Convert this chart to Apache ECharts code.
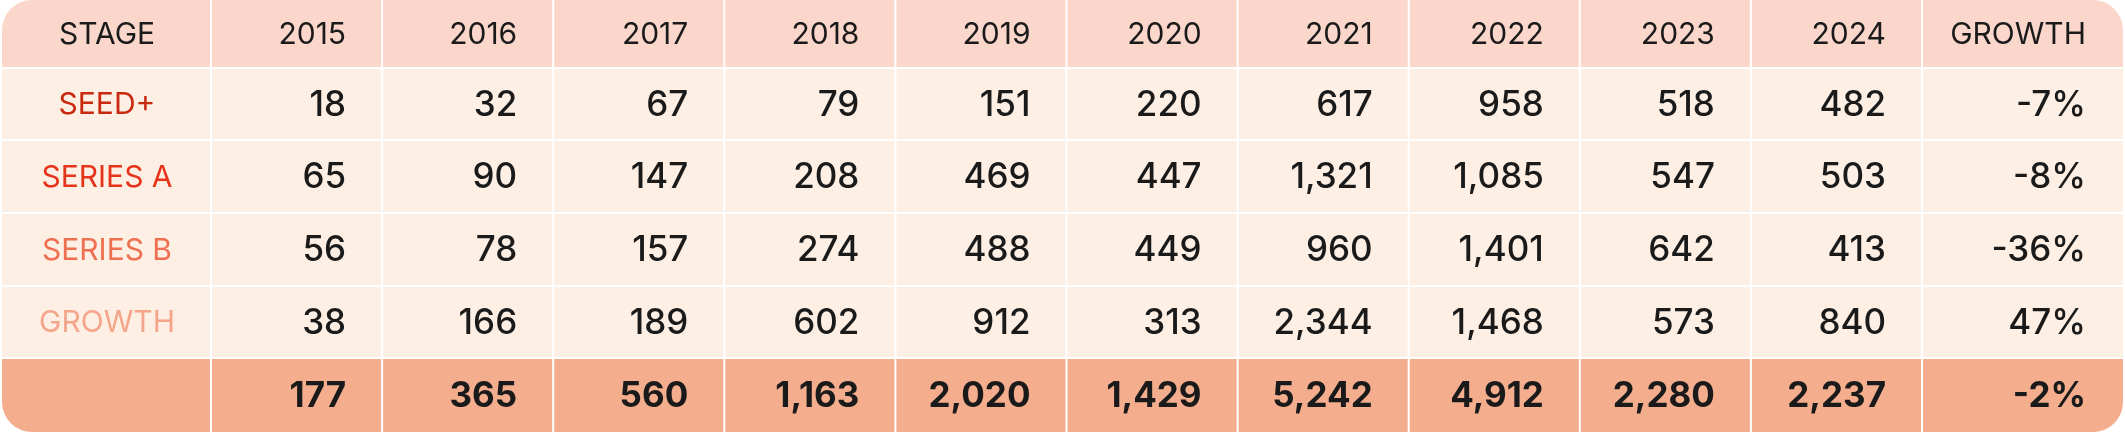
<!DOCTYPE html>
<html><head><meta charset="utf-8">
<script src="https://cdn.jsdelivr.net/npm/echarts@6/dist/echarts.min.js"></script>
<style>html,body{margin:0;padding:0;background:#fff}#c{width:2125px;height:432px}</style>
</head><body><div id="c"></div>
<script>
const headers = ['STAGE','2015','2016','2017','2018','2019','2020','2021','2022','2023','2024','GROWTH'];
const stages = ['SEED+','SERIES A','SERIES B','GROWTH'];
const stageColors = ['#C8290F','#E5341A','#EE7050','#F5A58A'];
const seedPlus = [18,32,67,79,151,220,617,958,518,482];
const seriesA = [65,90,147,208,469,447,1321,1085,547,503];
const seriesB = [56,78,157,274,488,449,960,1401,642,413];
const growthStage = [38,166,189,602,912,313,2344,1468,573,840];
const totals = [177,365,560,1163,2020,1429,5242,4912,2280,2237];
const growthPct = ['-7%','-8%','-36%','47%'];
const totalGrowth = '-2%';

const rows = [seedPlus, seriesA, seriesB, growthStage];
const fmt = v => v.toLocaleString('en-US');
const colW = [210].concat(Array(10).fill(171.1)).concat([200]);
const colX = [0]; colW.forEach(w => colX.push(colX[colX.length-1] + w));
const rowY = [0,69,141,214,287,359,432];
const cells = [];
headers.forEach((h,c) => cells.push([c,0,h,'head']));
rows.forEach((r,i) => {
  cells.push([0,i+1,stages[i],'stage',i]);
  r.forEach((v,j) => cells.push([j+1,i+1,fmt(v),'num']));
  cells.push([11,i+1,growthPct[i],'num']);
});
cells.push([0,5,'','total']);
totals.forEach((v,j) => cells.push([j+1,5,fmt(v),'total']));
cells.push([11,5,totalGrowth,'total']);

const chart = echarts.init(document.getElementById('c'));
const R = 30;
chart.setOption({
  animation:false,
  grid:{left:2,right:2,top:0,bottom:0},
  xAxis:{type:'value',min:0,max:colX[colX.length-1],show:false},
  yAxis:{type:'value',min:0,max:432,inverse:true,show:false},
  series:[{
    type:'custom',
    data:cells,
    renderItem:(params, api) => {
      const c = api.value(0), r = api.value(1);
      const d = cells[params.dataIndex];
      const p0 = api.coord([colX[c], rowY[r]]);
      const p1 = api.coord([colX[c+1], rowY[r+1]]);
      const kind = d[3];
      const fill = kind==='head' ? '#FBD7CB' : kind==='total' ? '#F4AE8E' : '#FDEFE4';
      let rad = [0,0,0,0];
      if (r===0 && c===0) rad=[R,0,0,0];
      if (r===0 && c===11) rad=[0,R,0,0];
      if (r===5 && c===11) rad=[0,0,R,0];
      if (r===5 && c===0) rad=[0,0,0,R];
      const gapR = c<11 ? 2 : 0, gapB = r<5 ? 2 : 0;
      const rect = {type:'rect', shape:{x:p0[0], y:p0[1], width:p1[0]-p0[0]-gapR, height:p1[1]-p0[1]-gapB, r:rad}, style:{fill}};
      const isLeftCenter = c===0;
      const cy = (p0[1]+p1[1]-gapB)/2;
      let color = '#1a1a1a', size = kind==='head' ? 30 : 35, weight = kind==='total' ? 'bold' : 500;
      if (kind==='head') weight = 'normal';
      if (kind==='stage') { color = stageColors[d[4]]; size = 30; weight = 'normal'; }
      const text = {type:'text', style:{
        text:d[2], x: isLeftCenter ? (p0[0]+p1[0])/2 : p1[0]-37, y:cy+1,
        align: isLeftCenter ? 'center' : 'right',
        verticalAlign:'middle', fill:color, fontSize:size, fontWeight:weight,
        fontFamily:'Inter, "Open Sans", sans-serif'
      }};
      return {type:'group', children:[rect, text]};
    }
  }]
});
</script></body></html>
